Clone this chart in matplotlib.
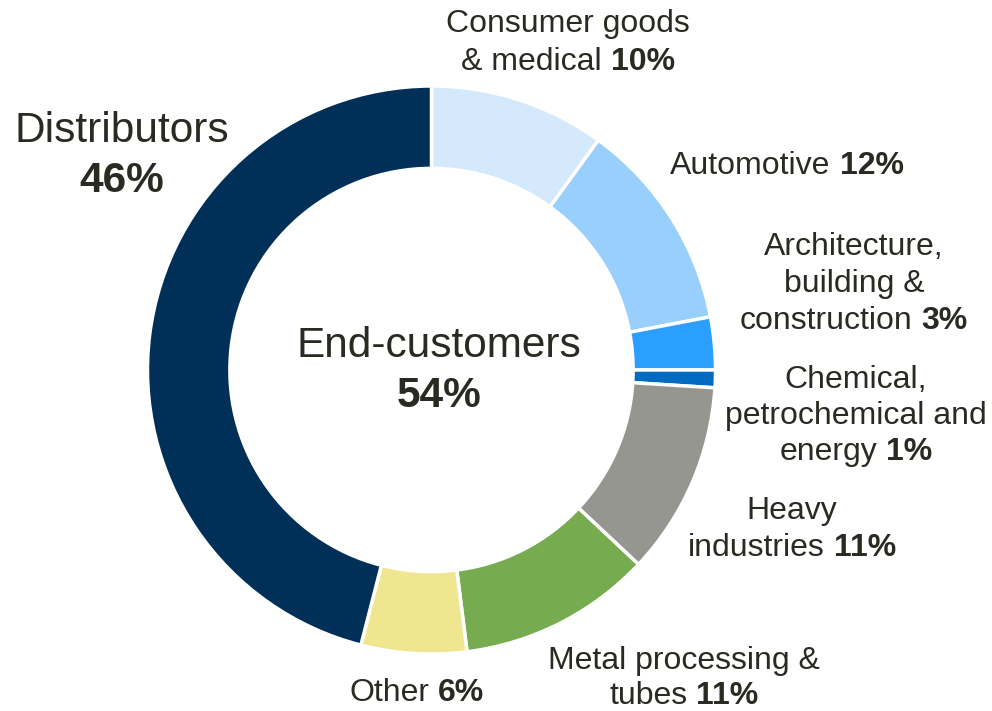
import matplotlib
matplotlib.use("Agg")
import matplotlib.pyplot as plt

plt.rcParams['font.family'] = ['Liberation Sans', 'DejaVu Sans']

# segments, clockwise from 12 o'clock
segments = ['Consumer goods & medical', 'Automotive', 'Architecture, building & construction',
            'Chemical, petrochemical and energy', 'Heavy industries',
            'Metal processing & tubes', 'Other', 'Distributors']
shares = [10, 12, 3, 1, 11, 11, 6, 46]
colors = ['#d4eafc', '#99cffc', '#2b9fff', '#006bc1', '#969691', '#77ab50', '#f0e68f', '#003057']

# label lines: list of (regular, bold) per line
label_lines = [
    [('Consumer goods', ''), ('& medical', '10%')],
    [('Automotive', '12%')],
    [('Architecture,', ''), ('building &', ''), ('construction', '3%')],
    [('Chemical,', ''), ('petrochemical and', ''), ('energy', '1%')],
    [('Heavy', ''), ('industries', '11%')],
    [('Metal processing &', ''), ('tubes', '11%')],
    [('Other', '6%')],
]
# (x center, y of first line, line step) in pixels from top-left
label_pos = [(568, 24, 38), (787, 166, 37), (854, 247, 37), (856, 380, 36),
             (792, 511, 37), (684, 661, 35), (417, 693, 36)]

W, H = 992, 711
TXT = '#2b2a22'
fig = plt.figure(figsize=(W / 100, H / 100), dpi=100)

cx, cy, r = 431.5, 370, 284
ax = fig.add_axes([(cx - r) / W, (H - cy - r) / H, 2 * r / W, 2 * r / H])
ax.pie(shares, colors=colors, startangle=90, counterclock=False, radius=1,
       wedgeprops=dict(width=0.29, edgecolor='white', linewidth=2.5))
ax.set_xlim(-1, 1)
ax.set_ylim(-1, 1)
ax.axis('off')

renderer = fig.canvas.get_renderer()


def rich_line(reg, bold, xc, yc, size):
    parts = [(reg, 'normal'), (bold, 'bold')]
    parts = [p for p in parts if p[0]]
    texts = [fig.text(0, 0, t, fontsize=size, fontweight=w, color=TXT,
                      ha='left', va='center') for t, w in parts]
    widths = [t.get_window_extent(renderer).width for t in texts]
    gap = 0.278 * size * 100 / 72 if len(texts) > 1 else 0
    x = xc - (sum(widths) + gap) / 2
    for t, w in zip(texts, widths):
        t.set_position((x / W, 1 - yc / H))
        x += w + gap


for lines, (x, y0, step) in zip(label_lines, label_pos):
    for i, (reg, bold) in enumerate(lines):
        rich_line(reg, bold, x, y0 + i * step, 23)

fig.text(122 / W, 1 - 131 / H, 'Distributors', fontsize=30.5, color=TXT, ha='center', va='center')
fig.text(122 / W, 1 - 181 / H, '46%', fontsize=30.5, fontweight='bold', color=TXT, ha='center', va='center')
fig.text(439 / W, 1 - 346 / H, 'End-customers', fontsize=30.5, color=TXT, ha='center', va='center')
fig.text(439 / W, 1 - 396 / H, '54%', fontsize=30.5, fontweight='bold', color=TXT, ha='center', va='center')

fig.savefig('out.png', dpi=100)
